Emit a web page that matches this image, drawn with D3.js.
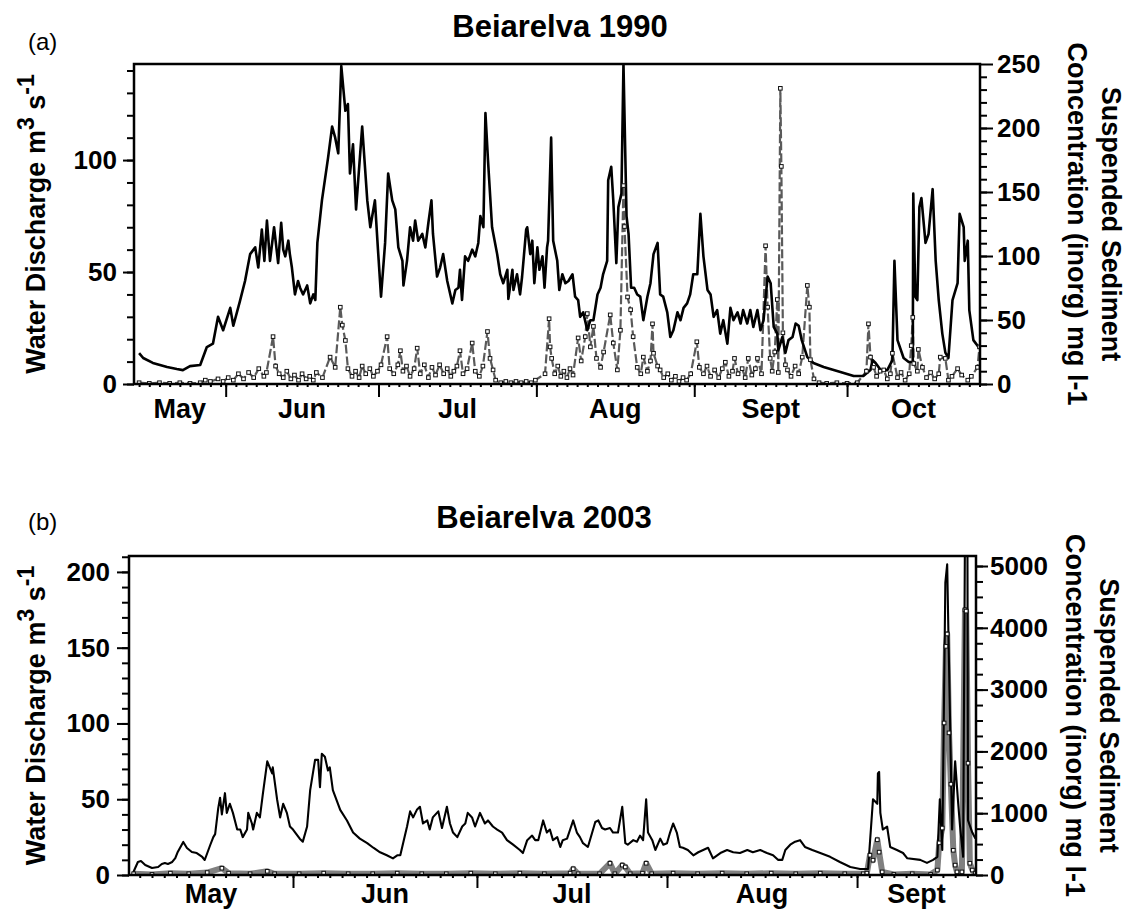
<!DOCTYPE html>
<html><head><meta charset="utf-8">
<script src="https://cdn.jsdelivr.net/npm/d3@7"></script>
<style>
body{margin:0;background:#fff}
svg{display:block}
text{font-family:"Liberation Sans",Arial,Helvetica,sans-serif}
</style>
</head><body>
<svg id="c" width="1130" height="911"></svg>
<script>
// ---- DATA (x = days since 1 May, y = value) ----
const discharge1990 = [[14.0,13.8],[14.8,11.6],[16.7,9.4],[19.5,7.6],[21.4,6.7],[22.6,6.2],[24.0,8],[26.0,8.5],[27.3,16.5],[28.5,18],[29.5,30],[30.5,24],[31.9,34],[32.5,26],[33.8,37],[34.8,46],[35.8,58],[36.8,61],[37.4,52],[38.1,69],[38.6,55],[39.1,73],[39.7,55],[40.5,70],[41.0,60],[41.3,54],[41.9,72],[42.3,60],[42.7,57],[43.3,64],[43.6,58],[44.0,52],[44.6,40],[45.2,46],[45.6,43],[46.2,40],[47.0,44],[47.6,36],[48.2,40],[48.6,37.5],[49.0,63],[49.9,82],[51.1,101],[51.9,115],[52.5,110],[53.1,103],[53.7,142],[54.5,122],[55.0,125],[55.4,94],[56.0,107],[56.6,78],[57.8,115],[58.8,82],[59.4,70],[60.3,82],[60.9,60],[61.5,39],[62.3,63],[62.9,94],[63.7,82],[64.3,78],[64.9,61],[65.7,55],[65.9,44],[66.6,55],[67.2,70],[67.8,64],[68.2,73],[68.8,64],[69.6,67],[70.2,61],[70.8,72],[71.4,82],[71.7,67],[72.5,48],[73.1,52],[73.7,58],[74.5,46],[75.5,36],[76.1,42],[76.7,43],[77.0,51],[77.4,37.5],[78.0,57],[78.6,55],[79.4,60],[80.0,57],[80.6,63],[81.0,75],[81.6,70],[82.0,121],[82.5,100],[83.3,70],[84.3,58],[84.9,49],[85.5,45],[86.3,51],[86.5,38],[87.3,51],[87.5,42],[88.2,49],[88.8,40],[89.2,48],[90.0,69],[90.2,70],[90.8,58],[91.2,64],[91.6,45],[92.2,61],[92.6,51],[93.2,57],[93.6,43],[94.1,61],[94.3,64],[94.9,110],[95.3,64],[96.1,55],[96.5,42],[97.1,49],[97.7,45],[98.3,46],[99.1,49],[99.6,39],[100.2,37.5],[100.6,30],[101.2,32],[102.0,24],[102.6,28.5],[103.2,28.5],[104.0,40],[104.6,43],[105.1,49],[105.9,55],[106.1,91],[106.7,97],[107.1,82],[107.7,54],[108.1,79],[108.7,85],[109.1,143],[109.7,75],[110.1,67],[110.6,43],[111.2,43],[111.8,40],[112.4,39],[113.0,28.5],[113.8,39],[114.4,45],[115.0,58],[115.8,63],[116.3,40],[116.9,39],[117.7,32],[118.3,21],[118.9,24],[119.7,32],[120.3,28.5],[120.9,34],[121.6,36],[122.2,40],[122.8,49],[123.6,49],[124.2,76],[124.8,57],[125.6,42],[126.2,40],[126.8,30],[127.5,33],[128.1,22.5],[128.7,28.5],[129.5,18],[130.1,34],[130.7,28.5],[131.5,32],[132.1,27],[132.6,33],[133.4,27],[134.0,33],[134.6,25.5],[135.4,33],[136.0,24],[136.6,28.5],[137.4,48],[138.0,45],[138.6,25.5],[139.3,22.5],[139.5,15],[140.3,21],[140.9,14],[141.5,19.6],[142.3,21],[142.9,27],[143.5,26],[144.1,19.6],[145.2,12],[146.4,9.4],[148.4,7.6],[151.7,5.4],[154.3,3.6],[156.2,3.6],[157.6,6.2],[158.0,10.7],[158.6,9.4],[159.6,6.2],[160.9,6.2],[161.9,10.7],[162.3,55],[162.9,19.6],[164.1,11.6],[165.1,9.8],[165.9,9.8],[166.0,85],[166.4,39],[166.8,37.5],[167.2,79],[167.6,83],[168.4,63],[169.0,67],[169.8,87],[170.4,55],[171.0,37.5],[171.7,22.5],[172.3,14],[172.9,11.6],[173.7,37.5],[174.7,45],[175.1,76],[175.9,70],[176.1,55],[176.7,64],[177.0,33],[177.8,19.6],[178.8,16.5]];

const sediment1990 = [[14,1],[16,0.5],[18,1],[20,0.5],[22,1],[24,0.5],[26,1],[27,3],[28,2],[29.5,4],[30.5,2],[31.5,5],[32.5,3],[33.5,8],[34.5,4],[35.5,9],[36.5,5],[37.5,12],[38.5,6],[39,9],[40.3,37],[40.8,14],[41.5,8],[42.3,5],[43,10],[43.8,4],[44.5,7],[45.3,3],[46,8],[46.8,4],[47.5,6],[48.2,3],[48.8,9],[50,5],[51.5,21],[52.5,13],[53.5,60],[53.9,46],[54.5,34],[55,12],[55.8,6],[56.5,10],[57.2,5],[57.8,14],[58.5,8],[59.3,12],[60,6],[60.8,10],[61.5,15],[62.7,37],[63.2,12],[64,8],[64.8,15],[65.3,26],[65.8,10],[66.5,14],[67.2,6],[68,12],[68.6,28],[69.2,8],[70,15],[70.8,5],[71.5,13],[72.2,7],[73,15],[73.8,8],[74.5,12],[75.2,6],[75.8,10],[76.4,14],[77,26],[77.6,8],[78.4,12],[79.4,32],[80,10],[80.8,6],[81.5,14],[82.4,41],[82.9,20],[83.5,11],[84,3],[85,1],[86,2],[87,1],[88,2],[89,1],[90,2],[91,1],[91.8,3],[93.7,8],[94.5,51],[94.7,29],[95,20],[95.6,8],[96.2,14],[96.8,6],[97.4,10],[98,5],[98.6,12],[99.2,7],[100.2,36],[100.8,18],[101.6,37],[102,55],[102.6,29],[103.2,45],[103.8,20],[104.6,13],[105.2,25],[106.5,54],[107.1,32],[107.9,11],[108.5,42],[109.1,155],[109.3,123],[109.9,68],[110.5,58],[111,37],[111.8,13],[112.5,8],[113,21],[113.8,10],[114.4,18],[114.8,47],[115,24],[115.8,14],[116.3,11],[117,5],[117.8,8],[118.5,3],[119.3,6],[120,2],[120.8,5],[121.5,3],[122.3,8],[123.5,33],[124,13],[124.8,8],[125.5,14],[126.2,6],[127,11],[127.8,5],[128.5,12],[129.1,17],[129.8,6],[130.5,10],[130.9,20],[131.6,8],[132.4,12],[133,5],[133.6,20],[134.3,7],[135,12],[135.4,20],[136.2,8],[137,108],[137.4,60],[137.9,20],[138.3,10],[138.8,25],[139.3,66],[139.5,9],[139.9,231],[140.1,170],[140.4,40],[140.9,15],[141.3,11],[142,6],[142.8,14],[143.5,8],[144.2,21],[145.2,77],[145.6,60],[145.8,19],[146.5,4],[147.5,1],[149,0.5],[151,1],[153,0.5],[155,1],[156.8,10],[157.2,47],[157.6,21],[158.2,13],[158.8,6],[159.5,10],[160.2,11],[160.9,4],[161.5,8],[161.9,24],[162.9,5],[163.6,9],[164.4,3],[165.2,8],[165.6,30],[165.9,52],[166.1,16],[166.8,10],[167,27],[167.8,13],[168.6,5],[169.4,9],[170.2,4],[171,8],[171.3,21],[172.3,20],[172.9,3],[173.6,6],[174.7,12],[175.5,7],[176.7,3],[177.4,6],[178.6,13],[179,29]];

const discharge2003 = [[4.9,1.3],[5.7,8.6],[6.2,9.2],[6.9,6.6],[8.0,4.6],[9.0,5.3],[9.6,7.3],[10.1,7.9],[10.6,7.3],[11.3,8.6],[11.8,11.2],[12.2,15.2],[13.1,21.8],[13.7,17.8],[14.5,15.2],[15.3,14.5],[16.2,11.9],[16.6,9.9],[17.5,19.8],[18.0,25],[18.3,27],[18.8,44],[19.1,51],[19.4,40],[19.9,54],[20.2,41],[20.7,47],[21.2,41],[21.9,30],[22.4,30],[22.8,25],[23.5,30],[23.7,41],[24.3,34],[24.5,30],[25.1,41],[25.6,38],[26.1,54],[26.8,75],[27.2,71],[27.6,67],[27.7,71],[28.4,50],[28.9,38],[29.4,47],[30.0,41],[30.5,32],[31.0,30],[32.1,24],[32.6,22],[33.3,32],[33.8,56],[34.6,76],[35.1,76],[35.4,58],[35.7,80],[36.2,78],[36.7,69],[37.0,71],[37.5,56],[38.7,43],[39.8,36],[40.8,28],[41.9,24],[43.1,21],[44.1,18],[45.2,15],[46.3,13],[47.3,11],[48.0,13],[48.5,13],[48.9,20],[49.6,32],[50.1,42],[50.6,38],[51.2,43],[51.7,45],[52.2,34],[52.9,36],[53.3,30],[53.8,38],[54.7,42],[55.3,31],[56.1,45],[56.6,34],[57.1,28],[57.8,25],[58.6,32],[59.1,34],[59.5,41],[60.2,38],[60.7,32],[61.5,41],[62.3,34],[62.8,36],[63.6,32],[64.3,30],[65.1,28],[65.9,23],[66.9,20],[68.0,16.5],[68.5,14.5],[69.2,23],[70.0,26],[70.5,23],[71.0,23],[71.8,36],[72.4,28],[72.9,30],[73.4,23],[74.1,25],[74.6,18.5],[75.0,23],[75.7,24],[76.2,30],[76.7,36],[77.3,28],[77.8,25],[78.3,21],[79.1,18.5],[79.8,28],[80.3,35],[80.8,36],[81.4,31],[81.9,30],[82.7,31],[83.2,28],[84.0,28],[84.7,45],[85.2,21],[85.6,20],[86.5,23],[87.1,22],[87.6,26],[88.1,23],[88.6,50],[88.9,28],[89.6,23],[90.1,16.5],[90.9,24],[91.4,20],[92.0,21],[92.5,28],[93.0,34],[93.6,28],[94.1,18.5],[94.6,18],[95.4,16.5],[96.3,13],[97.1,15],[97.9,16.5],[98.7,18],[99.5,11],[100.7,14.5],[101.8,16.5],[102.8,15],[103.9,14.5],[105.1,16.5],[106.0,15],[107.2,16.5],[108.3,14.5],[109.3,13],[110.1,10],[110.8,10],[111.3,16.5],[112.1,20],[112.9,22],[113.7,23],[114.5,18.5],[115.7,16.5],[117.0,14.5],[118.6,12],[120.2,8.6],[121.9,5.3],[123.5,4],[124.8,4],[125.6,50],[126.3,47],[126.4,67],[126.6,68],[126.8,41],[127.2,30],[127.9,32],[128.4,18.5],[129.5,16.5],[130.5,14.5],[131.2,11],[133.3,10],[134.4,8],[135.4,10],[136.1,12],[136.5,50],[136.9,16.5],[137.4,193],[137.7,205],[137.9,160],[138.5,30],[139.0,75],[139.5,47],[139.8,32],[140.3,12],[140.6,225],[141.0,225],[141.1,36],[141.8,28],[142.3,24]];

const sediment2003 = [[5,20],[8,10],[11,30],[14,20],[17,40],[19.4,110],[20.5,30],[24,20],[26.8,60],[28,20],[32,20],[36,30],[40,20],[44,20],[48,30],[52,20],[56,20],[60,30],[64,20],[68,30],[72,20],[76.2,30],[76.7,100],[77.5,20],[81,20],[82.7,190],[83.5,20],[84.7,160],[85.2,130],[86,20],[88,30],[88.6,190],[89.5,20],[93,30],[97,20],[101,30],[105,20],[109,30],[113,20],[117,30],[121,20],[124,20],[124.6,30],[125.1,320],[125.6,240],[126.3,570],[126.6,370],[127.1,50],[129,10],[132,20],[135,10],[136.1,80],[136.4,520],[136.9,760],[137.2,2460],[137.5,3700],[137.7,3900],[138.0,2300],[138.3,1470],[138.7,400],[139.0,160],[139.3,50],[140.1,50],[140.6,4290],[140.8,4270],[141.1,1810],[141.4,190],[141.8,80],[142.3,30]];

const monthLabels1990 = ["May","Jun","Jul","Aug","Sept","Oct"];
const monthLabels2003 = ["May","Jun","Jul","Aug","Sept"];
const leftTicks1990 = [0,50,100];
const rightTicks1990 = [0,50,100,150,200,250];
const leftTicks2003 = [0,50,100,150,200];
const rightTicks2003 = [0,1000,2000,3000,4000,5000];

// ---- DRAWING ----
const svg = d3.select('#c');
const toDate = (yr, d) => new Date(Date.UTC(yr, 4, 1) + d * 864e5);

function panel(o) {
  const g = svg.append('g');
  const x = d3.scaleUtc().domain([toDate(o.year, o.xDays[0]), toDate(o.year, o.xDays[1])]).range([o.left, o.right]);
  const yL = d3.scaleLinear().domain([0, o.qMax]).range([o.bottom, o.top]);
  const yR = d3.scaleLinear().domain([0, o.sMax]).range([o.bottom, o.top]);
  const cid = 'clip' + o.year;
  svg.append('clipPath').attr('id', cid).append('rect')
    .attr('x', o.left).attr('y', o.top).attr('width', o.right - o.left).attr('height', o.bottom - o.top);
  const plot = g.append('g').attr('clip-path', `url(#${cid})`);

  const sLine = d3.line().x(d => x(toDate(o.year, d[0]))).y(d => yR(d[1]));
  const qLine = d3.line().x(d => x(toDate(o.year, d[0]))).y(d => yL(d[1]));

  plot.append('path').datum(o.sed).attr('d', sLine).attr('fill', 'none')
    .attr('stroke', o.sedColor).attr('stroke-width', o.sedWidth)
    .attr('stroke-dasharray', o.sedDash || null).attr('stroke-linejoin', 'round');
  plot.append('path').datum(o.q).attr('d', qLine).attr('fill', 'none')
    .attr('stroke', '#000').attr('stroke-width', o.qWidth).attr('stroke-linejoin', 'round');
  plot.selectAll('rect.m').data(o.sed).join('rect').attr('class', 'm')
    .attr('x', d => x(toDate(o.year, d[0])) - 1.8).attr('y', d => yR(d[1]) - 1.8)
    .attr('width', 3.6).attr('height', 3.6).attr('fill', '#fff').attr('stroke', '#111').attr('stroke-width', 1);

  const font = sel => sel.selectAll('text').attr('font-size', 26).attr('font-weight', 'bold').attr('fill', '#000');
  const clean = sel => { sel.select('.domain').remove(); sel.selectAll('line').attr('stroke', '#000').attr('stroke-width', 2); };

  const minL = d3.range(0, o.qMax, 10);
  g.append('g').attr('transform', `translate(${o.left},0)`)
    .call(d3.axisLeft(yL).tickValues(minL).tickSize(7).tickFormat('')).call(clean);
  g.append('g').attr('transform', `translate(${o.left},0)`)
    .call(d3.axisLeft(yL).tickValues(o.leftTicks).tickSize(o.lTick).tickPadding(o.lPad).tickFormat(d3.format('d')))
    .call(clean).call(font);
  const minR = d3.range(0, o.sMax, o.rMinor);
  g.append('g').attr('transform', `translate(${o.right},0)`)
    .call(d3.axisRight(yR).tickValues(minR).tickSize(7).tickFormat('')).call(clean);
  g.append('g').attr('transform', `translate(${o.right},0)`)
    .call(d3.axisRight(yR).tickValues(o.rightTicks).tickSize(o.rTick).tickPadding(o.rPad).tickFormat(d3.format('d')))
    .call(clean).call(font);
  g.append('g').attr('transform', `translate(0,${o.bottom})`)
    .call(d3.axisBottom(x).ticks(d3.utcDay.every(2)).tickSize(3).tickFormat('')).call(clean);
  g.append('g').attr('transform', `translate(0,${o.bottom})`)
    .call(d3.axisBottom(x).ticks(d3.utcMonth).tickSize(13).tickFormat('')).call(clean);
  const [d0, d1] = x.domain();
  const months = d3.utcMonth.range(d3.utcMonth.floor(d0), d1);
  g.selectAll('text.month').data(months).join('text').attr('class', 'month')
    .attr('x', m => { const a = m < d0 ? d0 : m; const e = d3.utcMonth.offset(m, 1); const b = e > d1 ? d1 : e; return (x(a) + x(b)) / 2; })
    .attr('y', o.monthY).attr('text-anchor', 'middle').attr('font-size', 27).attr('font-weight', 'bold')
    .text((m, i) => o.months[i]);

  g.append('rect').attr('x', o.left).attr('y', o.top).attr('width', o.right - o.left).attr('height', o.bottom - o.top)
    .attr('fill', 'none').attr('stroke', '#000').attr('stroke-width', 2.5);

  g.append('text').attr('x', o.titleX).attr('y', o.titleY).attr('text-anchor', 'middle')
    .attr('font-size', 31).attr('font-weight', 'bold').text(o.title);
  g.append('text').attr('x', 28).attr('y', o.tagY).attr('font-size', 24).text(o.tag);

  const cy = (o.top + o.bottom) / 2;
  const lt = g.append('text').attr('transform', `translate(45,${cy}) rotate(-90)`).attr('text-anchor', 'middle')
    .attr('font-size', 27).attr('font-weight', 'bold');
  lt.append('tspan').text('Water Discharge m');
  lt.append('tspan').attr('dy', -11).attr('font-size', 23).text('3');
  lt.append('tspan').attr('dy', 11).text(' s');
  lt.append('tspan').attr('dy', -11).attr('font-size', 23).text('-1');
  g.append('text').attr('transform', `translate(${o.r1},${cy}) rotate(90)`).attr('text-anchor', 'middle')
    .attr('font-size', 27).attr('font-weight', 'bold').text('Suspended Sediment');
  g.append('text').attr('transform', `translate(${o.r2},${cy}) rotate(90)`).attr('text-anchor', 'middle')
    .attr('font-size', 27).attr('font-weight', 'bold').text('Concentration (inorg) mg l-1');
}

panel({year: 1990, xDays: [13, 179.1], left: 134, right: 980, top: 64, bottom: 384,
  qMax: 142.9, sMax: 250, q: discharge1990, sed: sediment1990,
  sedColor: '#5a5a5a', sedWidth: 2.2, sedDash: '9,3', qWidth: 2.6,
  leftTicks: leftTicks1990, rightTicks: rightTicks1990, lTick: 11, lPad: 6, rTick: 13, rPad: 4, rMinor: 10,
  months: monthLabels1990, monthY: 418, title: 'Beiarelva 1990', titleX: 560, titleY: 37, tag: '(a)', tagY: 50,
  r1: 1102, r2: 1068});

panel({year: 2003, xDays: [4.25, 142.4], left: 129, right: 976, top: 556, bottom: 875,
  qMax: 210.5, sMax: 5162, q: discharge2003, sed: sediment2003,
  sedColor: '#808080', sedWidth: 6, sedDash: null, qWidth: 2.1,
  leftTicks: leftTicks2003, rightTicks: rightTicks2003, lTick: 12, lPad: 7, rTick: 12, rPad: 2, rMinor: 250,
  months: monthLabels2003, monthY: 903, title: 'Beiarelva 2003', titleX: 544, titleY: 528, tag: '(b)', tagY: 530,
  r1: 1100, r2: 1066});
</script>
</body></html>
